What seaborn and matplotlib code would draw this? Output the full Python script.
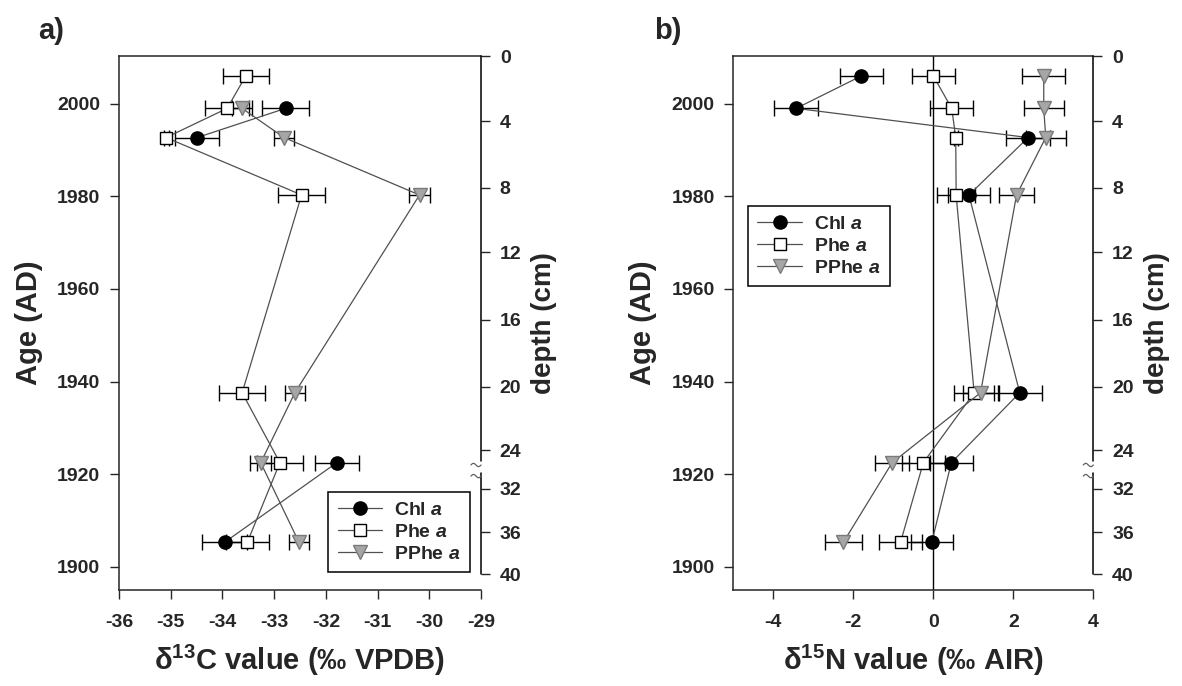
import numpy as np
import pandas as pd
import seaborn as sns
import matplotlib.pyplot as plt
import matplotlib.transforms as mtransforms
from matplotlib.lines import Line2D

nan = np.nan

# sampling ages (AD)
ages = [2006, 1999, 1992.7, 1980.3, 1937.6, 1922.5, 1905.3]

# d13C panel a
c13_chl = [nan, -32.78, -34.49, nan, nan, -31.79, -33.96]
c13_chl_err = [nan, 0.46, 0.43, nan, nan, 0.43, 0.43]
c13_phe = [-33.55, -33.91, -35.09, -32.47, -33.62, -32.89, -33.52]
c13_phe_err = [0.44, 0.42, 0.05, 0.45, 0.44, 0.44, 0.42]
c13_pphe = [nan, -33.62, -32.81, -30.19, -32.60, -33.26, -32.52]
c13_pphe_err = [nan, 0.19, 0.20, 0.21, 0.19, 0.20, 0.20]

# d15N panel b
n15_chl = [-1.80, -3.43, 2.37, 0.89, 2.16, 0.45, -0.04]
n15_chl_err = [0.54, 0.55, 0.55, 0.53, 0.55, 0.54, 0.53]
n15_phe = [0.00, 0.46, 0.56, 0.57, 1.02, -0.25, -0.82]
n15_phe_err = [0.53, 0.54, 0.05, 0.48, 0.50, 0.53, 0.54]
n15_pphe = [2.76, 2.76, 2.81, 2.08, 1.18, -1.03, -2.25]
n15_pphe_err = [0.54, 0.50, 0.50, 0.44, 0.45, 0.43, 0.46]

series = ["Chl", "Phe", "PPhe"]

# right axis: depth (cm) and matching age
depth_labels = [0, 4, 8, 12, 16, 20, 24, 32, 36, 40]
depth_ages = [2010.25, 1996.25, 1981.9, 1967.9, 1953.35, 1938.85, 1925.2, 1916.9, 1907.5, 1898.4]

sns.set_style("ticks")
plt.rcParams['font.family'] = ['Liberation Sans', 'DejaVu Sans']
plt.rcParams['font.weight'] = 'bold'
plt.rcParams['axes.unicode_minus'] = False
plt.rcParams['mathtext.fontset'] = 'custom'
plt.rcParams['mathtext.rm'] = 'Liberation Sans:bold'
plt.rcParams['mathtext.bf'] = 'Liberation Sans:bold'
plt.rcParams['mathtext.it'] = 'Liberation Sans:bold:italic'

styles = {
    "Chl": dict(marker='o', markersize=9.5, markerfacecolor='black', markeredgecolor='black'),
    "Phe": dict(marker='s', markersize=8.5, markerfacecolor='white', markeredgecolor='black'),
    "PPhe": dict(marker='v', markersize=10.5, markerfacecolor='#a6a6a6', markeredgecolor='#7a7a7a'),
}
line_col = '#505050'


def make_df(vals, errs):
    frames = []
    for name, v, e in zip(series, vals, errs):
        d = pd.DataFrame({'age': ages, 'value': v, 'err': e})
        d['seg'] = d['value'].isna().cumsum()
        d['series'] = name
        frames.append(d)
    return pd.concat(frames, ignore_index=True)


def draw_panel(ax, df):
    for name in series:
        sub = df[df['series'] == name]
        ax.errorbar(sub['value'], sub['age'], xerr=sub['err'], fmt='none',
                    ecolor='black', elinewidth=1.0, capsize=6, capthick=1.0, zorder=2)
        sns.lineplot(data=sub.dropna(subset=['value']), x='value', y='age', units='seg',
                     estimator=None, sort=False, orient='y', color=line_col, lw=0.9,
                     markeredgewidth=1.0, ax=ax, legend=False, zorder=3, **styles[name])
    ax.set_ylim(1895, 2010.3)
    ax.set_yticks([1900, 1920, 1940, 1960, 1980, 2000])
    ax.spines['right'].set_visible(False)
    for s in ['left', 'top', 'bottom']:
        ax.spines[s].set_linewidth(1.1)
    ax.tick_params(axis='both', direction='out', length=6.5, width=1.0, labelsize=14)
    ax.tick_params(axis='x', pad=11)
    ax.tick_params(axis='y', pad=7)
    ax.set_ylabel('Age (AD)', fontsize=21, fontweight='bold', labelpad=10)

    ax2 = ax.twinx()
    ax2.set_ylim(ax.get_ylim())
    for s in ['left', 'top', 'bottom', 'right']:
        ax2.spines[s].set_visible(False)
    ax2.set_yticks(depth_ages, labels=[str(d) for d in depth_labels])
    ax2.tick_params(axis='y', direction='out', length=6.5, width=1.0, labelsize=14, pad=7)
    ax2.set_ylabel('depth (cm)', fontsize=20, fontweight='bold', labelpad=7)

    # right spine with a break between 24 and 32 cm
    trans = mtransforms.blended_transform_factory(ax2.transAxes, ax2.transData)
    ax2.plot([1, 1], [2010.3, 1922.8], transform=trans, color='black', lw=1.1, clip_on=False)
    ax2.plot([1, 1], [1920.3, 1898.4], transform=trans, color='black', lw=1.1, clip_on=False)
    t = np.linspace(0, 1, 30)
    for y0 in [1922.0, 1919.6]:
        ax2.plot(1 - 0.028 + 0.028 * t, y0 + 0.35 * np.sin(2 * np.pi * t), transform=trans,
                 color='#606060', lw=0.9, clip_on=False)
    return ax2


def legend_handles():
    return [Line2D([], [], color=line_col, lw=0.9, markeredgewidth=1.0, **styles[n]) for n in series]


labels = [r'Chl $\mathit{a}$', r'Phe $\mathit{a}$', r'PPhe $\mathit{a}$']

fig = plt.figure(figsize=(11.82, 6.86), dpi=100)
ax_a = fig.add_axes([0.1007, 0.1399, 0.3063, 0.7784])
ax_b = fig.add_axes([0.6204, 0.1399, 0.3046, 0.7784])

df_c = make_df([c13_chl, c13_phe, c13_pphe], [c13_chl_err, c13_phe_err, c13_pphe_err])
df_n = make_df([n15_chl, n15_phe, n15_pphe], [n15_chl_err, n15_phe_err, n15_pphe_err])

leg_kw = dict(fontsize=14, frameon=True, fancybox=False, edgecolor='black', framealpha=1,
              handlelength=2.3, handletextpad=0.6, labelspacing=0.22, borderpad=0.5,
              borderaxespad=0)

draw_panel(ax_a, df_c)
ax_a.set_xlim(-36, -29)
ax_a.set_xticks(range(-36, -28))
ax_a.set_xlabel(r'δ$^{13}$C value (‰ VPDB)', fontsize=21, fontweight='bold', labelpad=8)
ax_a.legend(legend_handles(), labels, loc='lower right', bbox_to_anchor=(0.97, 0.033),
            **leg_kw).get_frame().set_linewidth(1.1)

draw_panel(ax_b, df_n)
ax_b.axvline(0, color='black', lw=1.0, zorder=1)
ax_b.set_xlim(-5, 4)
ax_b.set_xticks([-4, -2, 0, 2, 4])
ax_b.set_xlabel(r'δ$^{15}$N value (‰ AIR)', fontsize=21, fontweight='bold', labelpad=8)
ax_b.legend(legend_handles(), labels, loc='upper left', bbox_to_anchor=(0.04, 0.72),
            **leg_kw).get_frame().set_linewidth(1.1)

fig.text(0.032, 0.975, 'a)', fontsize=21, fontweight='bold', va='top')
fig.text(0.553, 0.975, 'b)', fontsize=21, fontweight='bold', va='top')

fig.savefig('out.png', dpi=100)
